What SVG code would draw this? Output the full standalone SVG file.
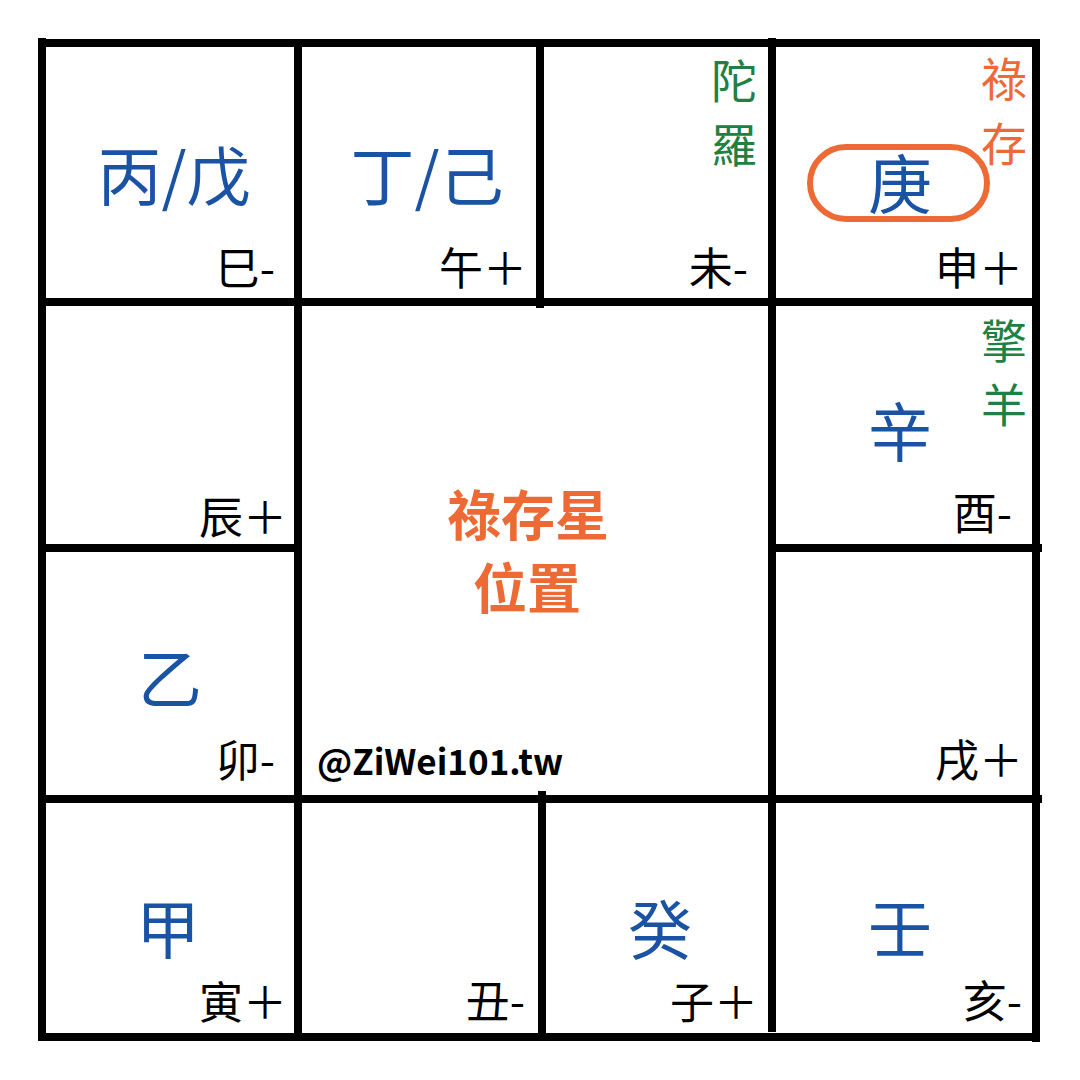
<svg xmlns="http://www.w3.org/2000/svg" width="1080" height="1080" viewBox="0 0 1080 1080">
<style>
.ln{stroke:#000;stroke-width:8;stroke-linecap:butt;fill:none}
text{font-family:"Noto Sans CJK TC","Noto Sans CJK SC",sans-serif}
.stem{fill:#1A53A3;font-size:64px;text-anchor:middle}
.br{fill:#000;font-size:44px;text-anchor:end}
.gr{fill:#1E8042;font-size:46px;text-anchor:middle}
.or{fill:#EE6A35;font-size:46px;text-anchor:middle}
.title{fill:#EE6A35;font-size:54px;font-weight:700;text-anchor:middle}
</style>
<rect width="1080" height="1080" fill="#fff"/>
<g id="connectors">
<line class="ln" x1="38" y1="43" x2="1040" y2="43"/>
<line class="ln" x1="42" y1="38" x2="42" y2="1041"/>
<line class="ln" x1="1036" y1="40" x2="1036" y2="1042"/>
<line class="ln" x1="38" y1="1037" x2="1040" y2="1037"/>
<line class="ln" x1="38" y1="302" x2="1034" y2="302"/>
<line class="ln" x1="42" y1="548" x2="300" y2="548"/>
<line class="ln" x1="772" y1="548" x2="1042" y2="548"/>
<line class="ln" x1="42" y1="799" x2="1042" y2="799"/>
<line class="ln" x1="298" y1="43" x2="298" y2="1037"/>
<line class="ln" x1="772" y1="38" x2="772" y2="1032"/>
<line class="ln" x1="540" y1="43" x2="540" y2="308"/>
<line class="ln" x1="542" y1="791" x2="542" y2="1037"/>
</g>
<g id="si">
<text class="stem" x="174" y="200">丙/戊</text>
<text class="br" x="275" y="285">巳-</text>
</g>
<g id="wu">
<text class="stem" x="427" y="200">丁/己</text>
<text class="br" x="527" y="285">午＋</text>
</g>
<g id="wei">
<text class="gr" x="734" y="98">陀</text>
<text class="gr" x="734" y="162">羅</text>
<text class="br" x="748" y="285">未-</text>
</g>
<g id="shen">
<rect x="810" y="147" width="177" height="72" rx="36" fill="none" stroke="#EE6A35" stroke-width="6"/>
<text class="stem" x="900" y="208">庚</text>
<text class="or" x="1004" y="96">祿</text>
<text class="or" x="1004" y="161">存</text>
<text class="br" x="1023" y="285">申＋</text>
</g>
<g id="chen">
<text class="br" x="287" y="534">辰＋</text>
</g>
<g id="you">
<text class="stem" x="900" y="456">辛</text>
<text class="gr" x="1004" y="358">擎</text>
<text class="gr" x="1004" y="422">羊</text>
<text class="br" x="1012" y="530">酉-</text>
</g>
<g id="center">
<text class="title" x="528" y="536">祿存星</text>
<text class="title" x="527" y="609">位置</text>
<text x="317" y="775" font-family="Inter,'Liberation Sans',sans-serif" font-weight="700" font-size="35" fill="#000">@ZiWei101.tw</text>
</g>
<g id="mao">
<text class="stem" x="170" y="703">乙</text>
<text class="br" x="275" y="777">卯-</text>
</g>
<g id="xu">
<text class="br" x="1023" y="777">戌＋</text>
</g>
<g id="yin">
<text class="stem" x="168" y="953">甲</text>
<text class="br" x="287" y="1019">寅＋</text>
</g>
<g id="chou">
<text class="br" x="525" y="1018">丑-</text>
</g>
<g id="zi">
<text class="stem" x="660" y="954">癸</text>
<text class="br" x="758" y="1019">子＋</text>
</g>
<g id="hai">
<text class="stem" x="900" y="952">壬</text>
<text class="br" x="1022" y="1018">亥-</text>
</g>
</svg>
